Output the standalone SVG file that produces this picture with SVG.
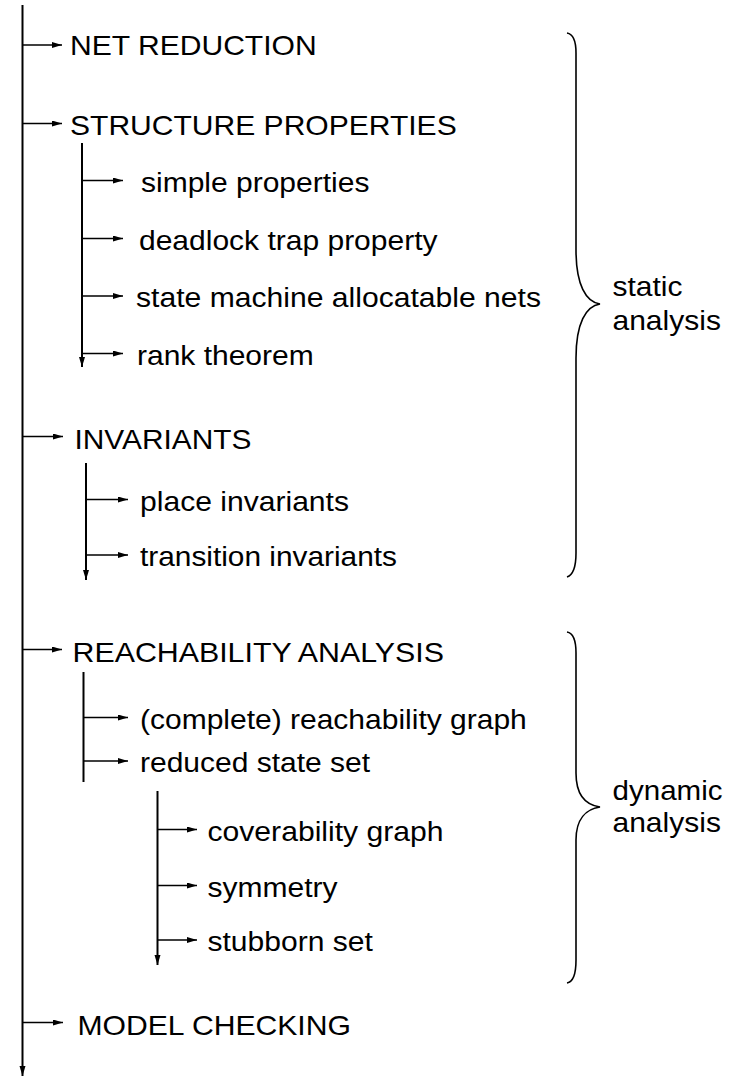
<svg xmlns="http://www.w3.org/2000/svg" width="740" height="1077" viewBox="0 0 740 1077">
  <style>
    text { font-family: "Liberation Sans", Arial, Helvetica, sans-serif; font-size: 27.5px; fill: #000; }
    .trunk { stroke: #000; stroke-width: 2; fill: none; }
    .branch { stroke: #000; stroke-width: 1.7; fill: none; }
    .brace { stroke: #000; stroke-width: 1.6; fill: none; }
  </style>
  <defs>
    <marker id="arrow" markerUnits="userSpaceOnUse" markerWidth="11" markerHeight="7" refX="10" refY="3" orient="auto">
      <path d="M0,0 L10,3 L0,6 Z" fill="#000"/>
    </marker>
  </defs>

  <!-- connectors: trunks and branches of the analysis tree -->
  <g id="connectors">
    <!-- main trunk -->
    <line class="trunk" x1="22.5" y1="5" x2="22.5" y2="1076" marker-end="url(#arrow)"/>
    <line class="branch" x1="22" y1="45" x2="62" y2="45" marker-end="url(#arrow)"/>
    <line class="branch" x1="22" y1="123.5" x2="62" y2="123.5" marker-end="url(#arrow)"/>
    <line class="branch" x1="22" y1="436.5" x2="63" y2="436.5" marker-end="url(#arrow)"/>
    <line class="branch" x1="22" y1="649.5" x2="62" y2="649.5" marker-end="url(#arrow)"/>
    <line class="branch" x1="22" y1="1022.5" x2="63" y2="1022.5" marker-end="url(#arrow)"/>

    <!-- structure properties -->
    <line class="trunk" x1="82" y1="143" x2="82" y2="367" marker-end="url(#arrow)"/>
    <line class="branch" x1="82" y1="180.5" x2="123" y2="180.5" marker-end="url(#arrow)"/>
    <line class="branch" x1="82" y1="238.5" x2="123" y2="238.5" marker-end="url(#arrow)"/>
    <line class="branch" x1="82" y1="296" x2="123" y2="296" marker-end="url(#arrow)"/>
    <line class="branch" x1="82" y1="353.5" x2="123" y2="353.5" marker-end="url(#arrow)"/>

    <!-- invariants -->
    <line class="trunk" x1="86" y1="463" x2="86" y2="580" marker-end="url(#arrow)"/>
    <line class="branch" x1="86" y1="499.5" x2="128" y2="499.5" marker-end="url(#arrow)"/>
    <line class="branch" x1="86" y1="555" x2="128" y2="555" marker-end="url(#arrow)"/>

    <!-- reachability analysis -->
    <line class="trunk" x1="83.5" y1="672" x2="83.5" y2="782"/>
    <line class="branch" x1="83.5" y1="717.5" x2="128" y2="717.5" marker-end="url(#arrow)"/>
    <line class="branch" x1="83.5" y1="761" x2="128" y2="761" marker-end="url(#arrow)"/>

    <!-- reduced state set -->
    <line class="trunk" x1="157.5" y1="791" x2="157.5" y2="965" marker-end="url(#arrow)"/>
    <line class="branch" x1="157.5" y1="829.5" x2="197" y2="829.5" marker-end="url(#arrow)"/>
    <line class="branch" x1="157.5" y1="885.5" x2="197" y2="885.5" marker-end="url(#arrow)"/>
    <line class="branch" x1="157.5" y1="940" x2="197" y2="940" marker-end="url(#arrow)"/>
  </g>

  <!-- top-level techniques and their sub-items -->
  <g id="net-reduction"><text x="70" y="55" textLength="246.7" lengthAdjust="spacingAndGlyphs">NET REDUCTION</text></g>
  <g id="structure-properties"><text x="70" y="135" textLength="386.7" lengthAdjust="spacingAndGlyphs">STRUCTURE PROPERTIES</text></g>
  <g id="simple-properties"><text x="141" y="192" textLength="228.4" lengthAdjust="spacingAndGlyphs">simple properties</text></g>
  <g id="deadlock-trap"><text x="139" y="249.5" textLength="298.5" lengthAdjust="spacingAndGlyphs">deadlock trap property</text></g>
  <g id="state-machine"><text x="136" y="307" textLength="405" lengthAdjust="spacingAndGlyphs">state machine allocatable nets</text></g>
  <g id="rank-theorem"><text x="137" y="364.5" textLength="176.7" lengthAdjust="spacingAndGlyphs">rank theorem</text></g>
  <g id="invariants"><text x="74.5" y="448.5" textLength="177" lengthAdjust="spacingAndGlyphs">INVARIANTS</text></g>
  <g id="place-invariants"><text x="140" y="510.5" textLength="209" lengthAdjust="spacingAndGlyphs">place invariants</text></g>
  <g id="transition-invariants"><text x="140" y="566" textLength="257" lengthAdjust="spacingAndGlyphs">transition invariants</text></g>
  <g id="reachability-analysis"><text x="72.5" y="661.5" textLength="371.5" lengthAdjust="spacingAndGlyphs">REACHABILITY ANALYSIS</text></g>
  <g id="complete-graph"><text x="140" y="729" textLength="386.8" lengthAdjust="spacingAndGlyphs">(complete) reachability graph</text></g>
  <g id="reduced-state-set"><text x="140" y="772" textLength="230.1" lengthAdjust="spacingAndGlyphs">reduced state set</text></g>
  <g id="coverability-graph"><text x="207.5" y="840.5" textLength="236" lengthAdjust="spacingAndGlyphs">coverability graph</text></g>
  <g id="symmetry"><text x="207.5" y="897" textLength="130" lengthAdjust="spacingAndGlyphs">symmetry</text></g>
  <g id="stubborn-set"><text x="207.5" y="951" textLength="165.3" lengthAdjust="spacingAndGlyphs">stubborn set</text></g>
  <g id="model-checking"><text x="77.5" y="1035" textLength="273.4" lengthAdjust="spacingAndGlyphs">MODEL CHECKING</text></g>

  <!-- grouping braces -->
  <g id="static-analysis">
    <path class="brace" d="M567,33 C573,34 576,42 576,53 L576,250 C576,285 586,302 600,304 C586,306 576,323 576,358 L576,553 C576,566 573,575 567,577"/>
    <text x="612.5" y="296" textLength="70" lengthAdjust="spacingAndGlyphs">static</text>
    <text x="612.5" y="329.5" textLength="108.4" lengthAdjust="spacingAndGlyphs">analysis</text>
  </g>
  <g id="dynamic-analysis">
    <path class="brace" d="M567,632 C573,633 576,641 576,653 L576,773 C576,795 586,805 600,807 C586,809 576,819 576,840 L576,960 C576,974 573,982 567,983"/>
    <text x="612.5" y="799.5" textLength="110" lengthAdjust="spacingAndGlyphs">dynamic</text>
    <text x="612.5" y="832" textLength="108.4" lengthAdjust="spacingAndGlyphs">analysis</text>
  </g>
</svg>
